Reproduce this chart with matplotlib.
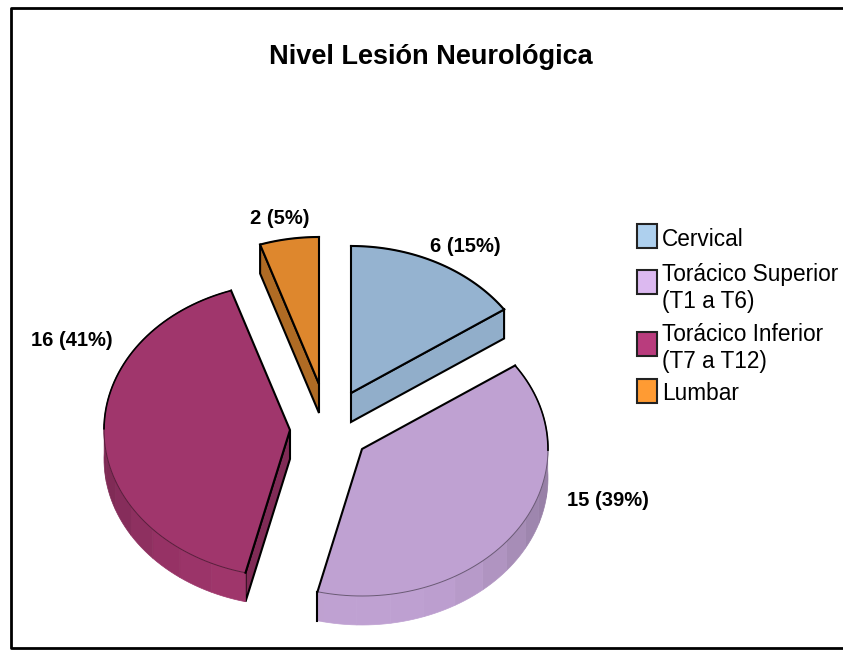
import matplotlib
matplotlib.use('Agg')
import matplotlib.pyplot as plt
import numpy as np
from matplotlib.patches import Polygon, Rectangle

plt.rcParams['font.family'] = ['Liberation Sans', 'DejaVu Sans']

title = 'Nivel Lesión Neurológica'
categories = ['Cervical', 'Torácico Superior\n(T1 a T6)', 'Torácico Inferior\n(T7 a T12)', 'Lumbar']
counts = [6, 15, 16, 2]
labels = ['6 (15%)', '15 (39%)', '16 (41%)', '2 (5%)']

top_colors = ['#95b3d0', '#bfa1d2', '#a0366c', '#de872d']
legend_colors = ['#aed0ee', '#dcb9f0', '#b93c7d', '#ff9b33']
face_shade = [0.97, 1.0, 0.8, 0.79]

# vertice de cada porcion (pixeles), el pie va separado
apex = [(351, 393), (362, 449), (290, 430), (319, 384)]
label_pos = [(465, 247), (608, 500), (72, 341), (280, 218)]
legend_y = [236, 282, 344, 391]
legend_text_y = [240, 288, 348, 394]

rx = 186
ry = 147
depth = 29


def darker(color, k):
    rgb = np.array(matplotlib.colors.to_rgb(color))
    return tuple(rgb * k)


def rim(p, th):
    # angulo en grados desde las 12 en sentido horario
    r = np.radians(th)
    return np.column_stack([p[0] + rx * np.sin(r), p[1] - ry * np.cos(r)])


def face_visible(p, e, m):
    # la cara se ve solo si la tapa queda por encima del radio
    if abs(e[0] - p[0]) < 1:
        return False
    y_line = p[1] + (m[0] - p[0]) * (e[1] - p[1]) / (e[0] - p[0])
    return m[1] < y_line


def draw_slice(ax, p, a0, a1, color, shade_face):
    th = np.linspace(a0, a1, 80)
    edge = rim(p, th)
    low = edge + [0, depth]
    px, py = p
    m = rim(p, np.array([(a0 + a1) / 2]))[0]

    # caras internas
    for a in (a0, a1):
        e = rim(p, np.array([a]))[0]
        if not face_visible(p, e, m):
            continue
        face = [(px, py), tuple(e), (e[0], e[1] + depth), (px, py + depth)]
        ax.add_patch(Polygon(face, closed=True, fc=darker(color, shade_face), ec='black', lw=1.5, zorder=2))

    # pared exterior con sombreado por tramos
    for i in range(0, len(th) - 1, 6):
        j = min(i + 6, len(th) - 1)
        mid = (th[i] + th[j]) / 2
        if np.cos(np.radians(mid)) > 0:
            continue
        shade = 1.0 - 0.22 * abs(np.sin(np.radians(mid))) ** 3
        quad = np.vstack([edge[i:j + 1], low[i:j + 1][::-1]])
        ax.add_patch(Polygon(quad, closed=True, fc=darker(color, shade), ec=darker(color, shade), lw=0.5, zorder=3))

    # cara superior
    top = np.vstack([[p], edge])
    ax.add_patch(Polygon(top, closed=True, fc=color, ec='none', zorder=4))
    ax.plot(edge[:, 0], edge[:, 1], color=darker(color, 0.55), lw=0.7, zorder=5)
    return edge


fig = plt.figure(figsize=(8.43, 6.5), dpi=100)
ax = fig.add_axes([0, 0, 1, 1])
ax.set_xlim(0, 843)
ax.set_ylim(650, 0)
ax.axis('off')

# marco
ax.plot([843, 11, 11, 843], [8, 8, 648, 648], color='black', lw=2, zorder=1)

angles = np.cumsum([0] + counts) / sum(counts) * 360
order = [3, 0, 2, 1]
for i in order:
    a0, a1 = angles[i], angles[i + 1]
    edge = draw_slice(ax, apex[i], a0, a1, top_colors[i], face_shade[i])
    px, py = apex[i]
    # borde fuerte en los radios
    ax.plot([edge[0, 0], px, edge[-1, 0]], [edge[0, 1], py, edge[-1, 1]], color='black', lw=1.5, zorder=6)
    if i in (0, 3):
        ax.plot(edge[:, 0], edge[:, 1], color='black', lw=1.5, zorder=6)
    if i == 1:
        # arista vertical al final de la porcion
        ax.plot([edge[-1, 0]] * 2, [edge[-1, 1], edge[-1, 1] + depth], color='black', lw=1.5, zorder=6)

# bordes del labio superior
for i in (1, 2):
    a0, a1 = angles[i], angles[i + 1]
    th = np.linspace(a0, a1, 80)
    edge = rim(apex[i], th)
    keep = np.cos(np.radians(th)) >= -0.02
    ax.plot(np.where(keep, edge[:, 0], np.nan), np.where(keep, edge[:, 1], np.nan), color='black', lw=1.2, zorder=6)

t = ax.text(431, 64, title, ha='center', va='baseline', fontsize=19.5, fontweight='bold')
# el titulo va cortado abajo como en el original
t.set_clip_path(Rectangle((0, 650 - 66), 843, 66, transform=None))

for lab, (x, y) in zip(labels, label_pos):
    ax.text(x, y, lab, ha='center', va='center', fontsize=14.5, fontweight='bold')

for cat, col, y, ty in zip(categories, legend_colors, legend_y, legend_text_y):
    ax.add_patch(Rectangle((637, y - 12), 20, 24, fc=col, ec='#222222', lw=1.5, zorder=3))
    ax.text(662, ty, cat, ha='left', va='center', fontsize=16.3, linespacing=1.2)

fig.savefig('out.png', dpi=100)
